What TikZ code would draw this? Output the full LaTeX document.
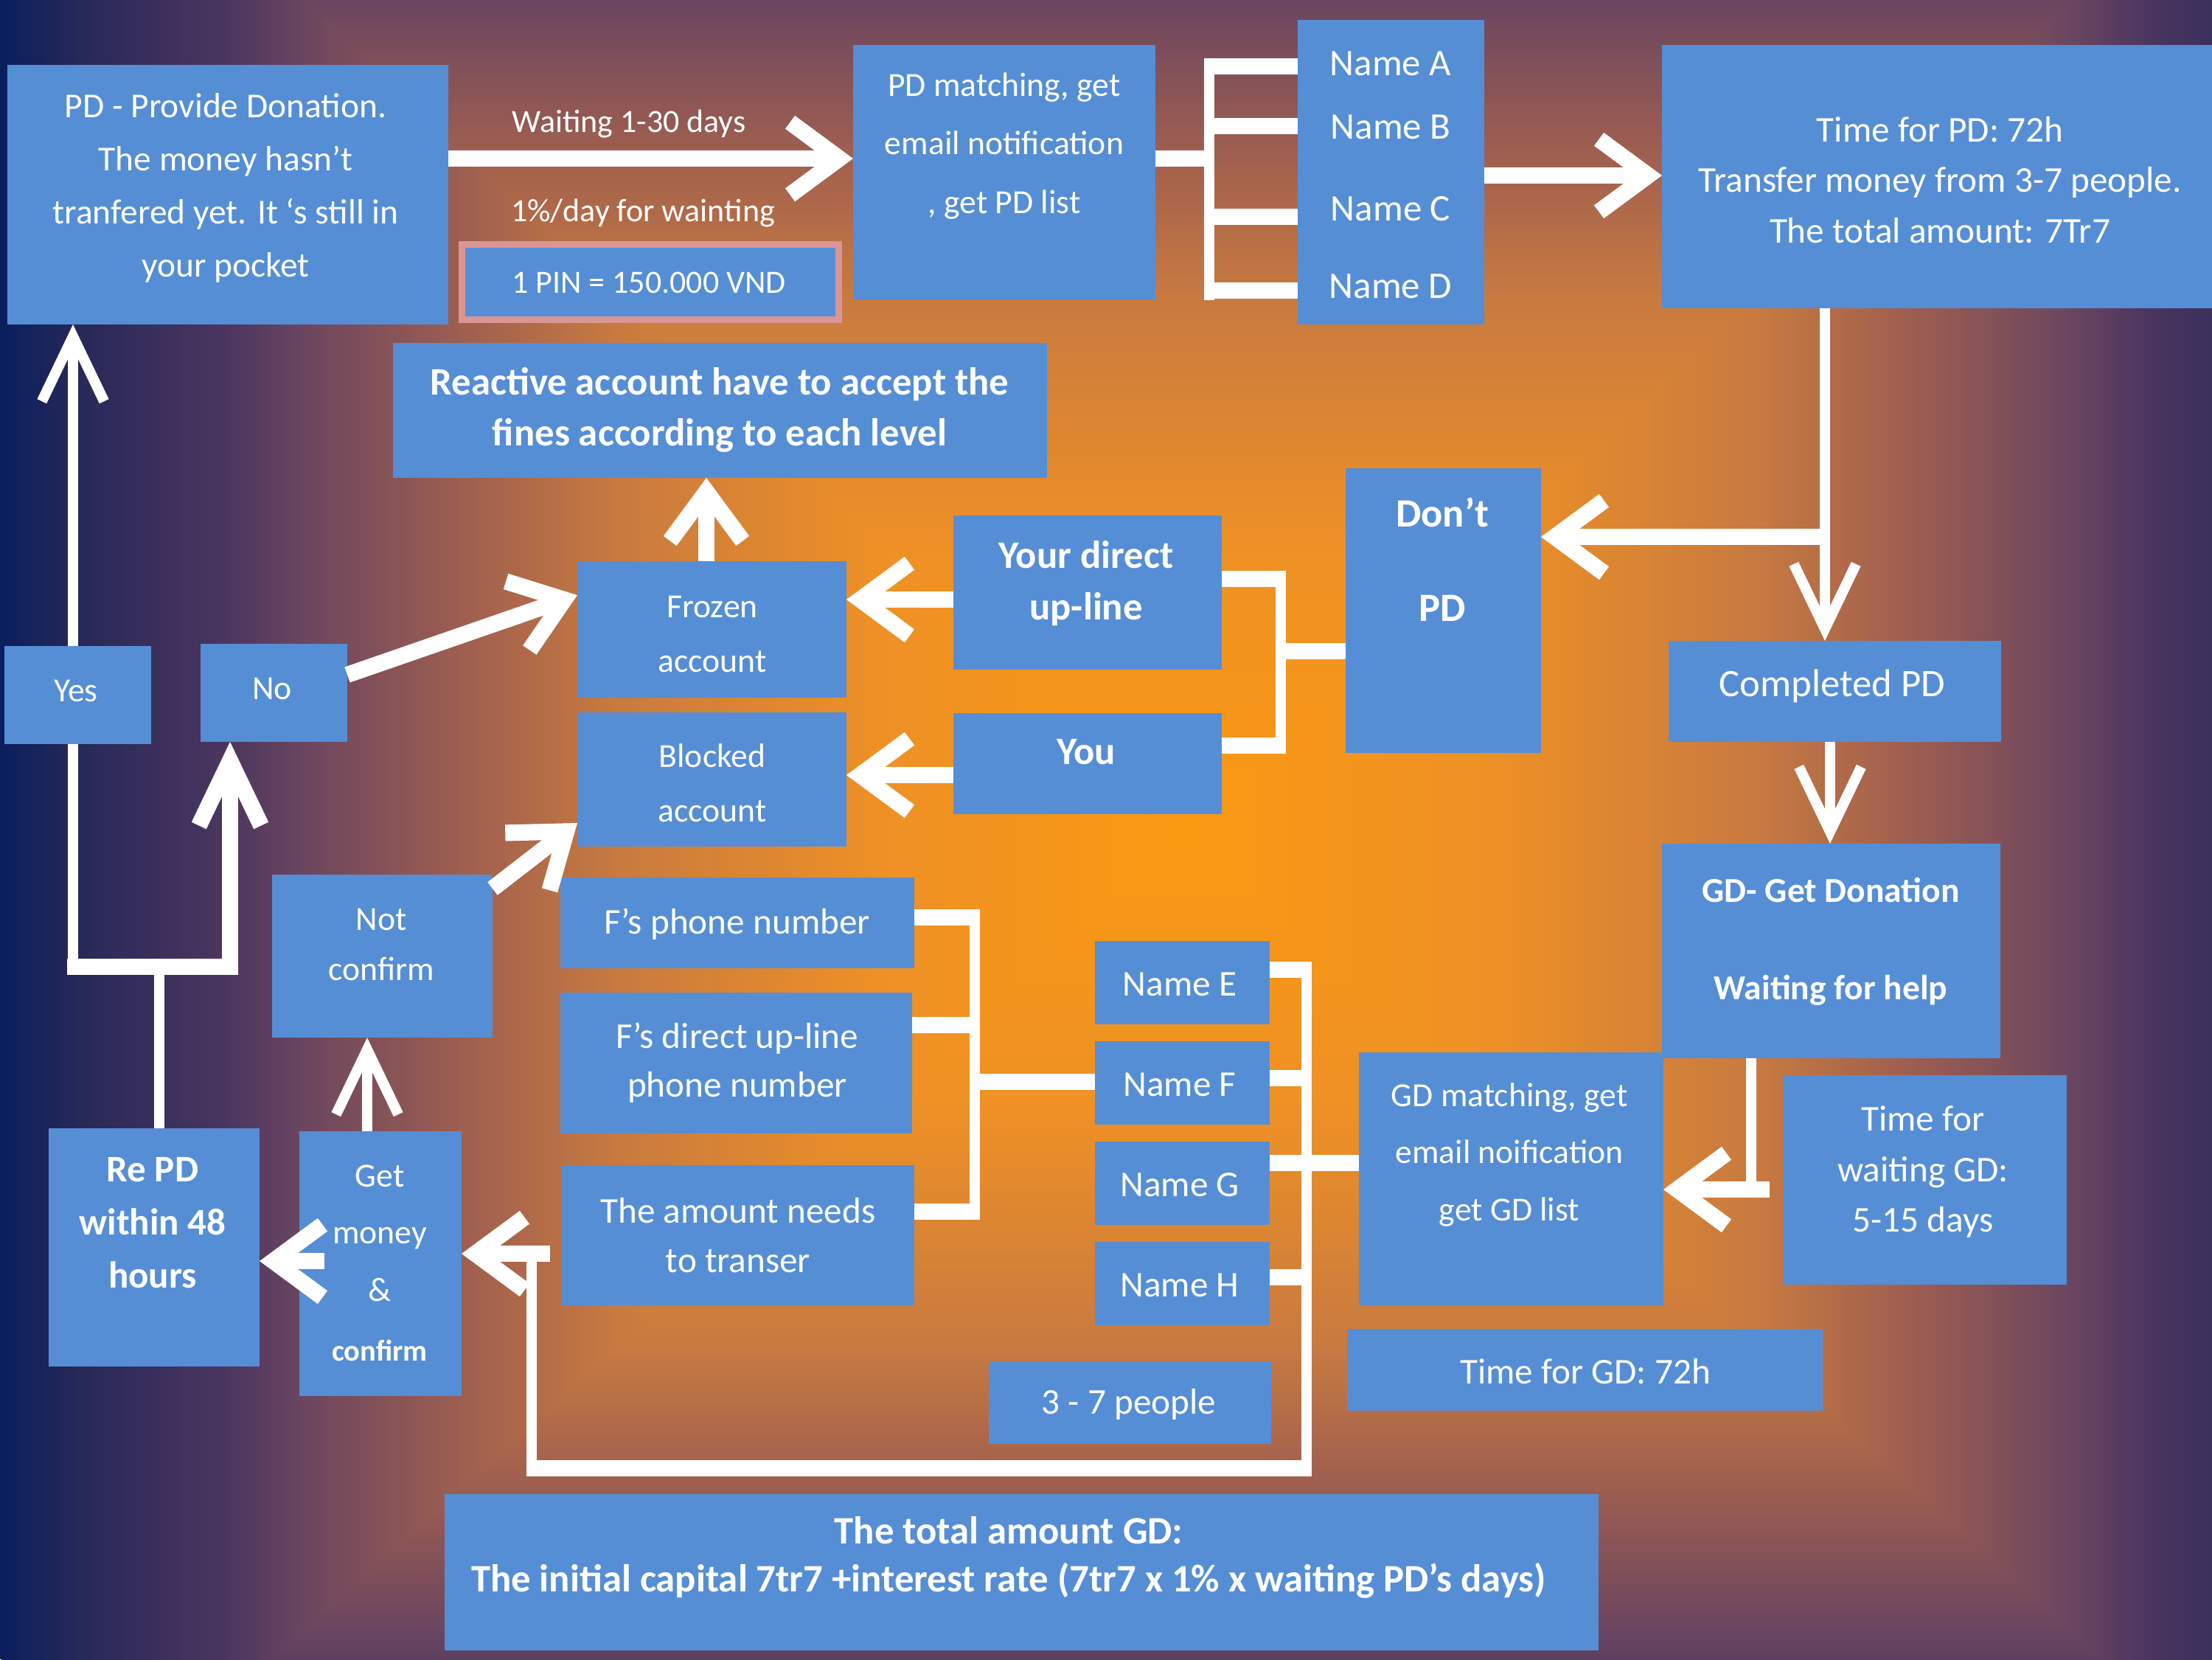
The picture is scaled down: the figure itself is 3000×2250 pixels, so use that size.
\documentclass[tikz,border=0pt]{standalone}
\usepackage{fontspec}
\setmainfont{Carlito}
\usetikzlibrary{arrows.meta,fit}

\definecolor{boxblue}{HTML}{558ED5}
\definecolor{pinkedge}{HTML}{D99694}
% background ramp, from the outer edge inwards
\definecolor{rampA}{HTML}{0B1F5E}
\definecolor{rampB}{HTML}{262858}
\definecolor{rampC}{HTML}{4A3560}
\definecolor{rampD}{HTML}{6B4660}
\definecolor{rampE}{HTML}{9E5E50}
\definecolor{rampF}{HTML}{C87A40}
\definecolor{rampG}{HTML}{EE9026}
\definecolor{rampH}{HTML}{FA9A12}

\newcommand\fsz[2]{\fontsize{#1}{#2}\selectfont}

% nested rectangles that give a rectangular glow around (1607,1130)
% #1 outer level, #2 inner level, #3 outer colour, #4 inner colour, #5 steps
\newcommand\glowband[5]{%
  \foreach \bk in {0,...,#5}{%
    \pgfmathsetmacro\bandv{#1-(#1-#2)*\bk/#5}%
    \pgfmathsetmacro\bandmix{100*\bk/#5}%
    \fill[#4!\bandmix!#3]
      ({1607-\bandv*1408},{1130-\bandv*1330}) rectangle
      ({1607+\bandv*1414},{1130+\bandv*1272});
  }}

\tikzset{
  box/.style={fill=boxblue, draw=none, inner sep=0pt, outer sep=0pt},
  lbl/.style={text=white, align=center, inner sep=0pt, outer sep=0pt},
  wire/.style={draw=white, line width=6.3pt},
  slim/.style={draw=white, line width=4pt},
  headT/.style={-{Straight Barb[length=19pt,width=28pt]}},
  headS/.style={-{Straight Barb[length=25pt,width=24pt]}},
}

\begin{document}
\begin{tikzpicture}[x=0.01cm,y=-0.01cm]
\path[use as bounding box] (0,0) rectangle (3000,2250);
\begin{scope}
  \clip (0,0) rectangle (3000,2250);
  \fill[rampA] (0,0) rectangle (3000,2250);
  \glowband{1.14}{1.07}{rampA}{rampB}{14}
  \glowband{1.07}{0.93}{rampB}{rampC}{28}
  \glowband{0.93}{0.85}{rampC}{rampD}{16}
  \glowband{0.85}{0.70}{rampD}{rampE}{30}
  \glowband{0.70}{0.55}{rampE}{rampF}{30}
  \glowband{0.55}{0.30}{rampF}{rampG}{50}
  \glowband{0.30}{0.00}{rampG}{rampH}{60}
\end{scope}

% ---------- boxes ----------
\node[box, fit={(10,88) (608,440)}] (pd) {};
\node[box, fit={(1157,61) (1567,406)}] (match) {};
\node[box, fit={(1760,27) (2013,135)}] (nameA) {};
\node[box, fit={(1760,134) (2013,221)}] (nameB) {};
\node[box, fit={(1760,220) (2013,331)}] (nameC) {};
\node[box, fit={(1760,330) (2013,440)}] (nameD) {};
\node[box, fit={(2254,61) (3000,418)}] (tpd) {};
\node[box, fit={(1825,635) (2090,1021)}] (dont) {};
\node[box, fit={(2263,869) (2714,1006)}] (completed) {};
\node[box, fit={(2254,1144) (2713,1435)}] (gd) {};
\node[box, fit={(1843,1427) (2256,1770)}] (gdm) {};
\node[box, fit={(2418,1458) (2803,1742)}] (twait) {};
\node[box, fit={(1827,1802) (2472,1913)}] (tgd) {};
\node[box, fit={(1485,1276) (1722,1389)}] (nameE) {};
\node[box, fit={(1485,1412) (1722,1525)}] (nameF) {};
\node[box, fit={(1485,1548) (1722,1661)}] (nameG) {};
\node[box, fit={(1485,1684) (1722,1797)}] (nameH) {};
\node[box, fit={(1341,1846) (1724,1958)}] (people) {};
\node[box, fit={(603,2026) (2168,2238)}] (total) {};
\node[box, fit={(760,1190) (1240,1313)}] (fph) {};
\node[box, fit={(760,1346) (1237,1537)}] (fdu) {};
\node[box, fit={(762,1580) (1240,1770)}] (amt) {};
\node[box, fit={(783,761) (1148,946)}] (frozen) {};
\node[box, fit={(783,966) (1148,1148)}] (blocked) {};
\node[box, fit={(533,465) (1420,648)}] (reactive) {};
\node[box, fit={(1293,699) (1657,908)}] (yd) {};
\node[box, fit={(1293,967) (1657,1104)}] (you) {};
\node[box, fit={(6,876) (205,1009)}] (yes) {};
\node[box, fit={(272,873) (471,1006)}] (no) {};
\node[box, fit={(66,1530) (352,1853)}] (repd) {};
\node[box, fit={(406,1534) (626,1893)}] (getm) {};
\node[box, fit={(369,1186) (668,1407)}] (notc) {};
% PIN box with its pink rim
\node[box, draw=pinkedge, line width=2.6pt, fit={(626.5,331.5) (1137.5,433.5)}] (pin) {};

% ---------- texts ----------
\node[lbl, font=\fsz{13.5}{20.5}] (pdtext) at (306,255)
  {PD - Provide Donation.\\The money hasn’t\\tranfered yet. It ‘s still in\\your pocket};
\node[lbl, font=\fsz{12.5}{15}] (waittext) at (853,168) {Waiting 1-30 days};
\node[lbl, font=\fsz{12.5}{15}] (ratetext) at (872,289) {1\%/day for wainting};
\node[lbl, font=\fsz{12.5}{15}] (pintext) at (880,383) {1 PIN = 150.000 VND};
\node[lbl, font=\fsz{13}{22.5}] (matchtext) at (1362,198)
  {PD matching, get\\email notification\\, get PD list};
\node[lbl, font=\fsz{14.5}{17}] (nameAtext) at (1886,86) {Name A};
\node[lbl, font=\fsz{14.5}{17}] (nameBtext) at (1886,172) {Name B};
\node[lbl, font=\fsz{14.5}{17}] (nameCtext) at (1886,283) {Name C};
\node[lbl, font=\fsz{14.5}{17}] (nameDtext) at (1886,388) {Name D};
\node[lbl, font=\fsz{14}{19.5}] (tpdtext) at (2631,244)
  {Time for PD: 72h\\Transfer money from 3-7 people.\\The total amount: 7Tr7};
\node[lbl, font=\bfseries\fsz{15.5}{36.4}] (donttext) at (1956,759) {Don’t\\PD};
\node[lbl, font=\fsz{15}{18}] (completedtext) at (2485,930) {Completed PD};
\node[lbl, font=\bfseries\fsz{13.5}{37.5}] (gdtext) at (2483,1277)
  {GD- Get Donation\\Waiting for help};
\node[lbl, font=\fsz{13}{22}] (gdmtext) at (2047,1566)
  {GD matching, get\\email noification\\get GD list};
\node[lbl, font=\fsz{14}{19.5}] (twaittext) at (2608,1589)
  {Time for\\waiting GD:\\5-15 days};
\node[lbl, font=\fsz{14}{17}] (tgdtext) at (2150,1860) {Time for GD: 72h};
\node[lbl, font=\fsz{14}{17}] (nameEtext) at (1600,1335) {Name E};
\node[lbl, font=\fsz{14}{17}] (nameFtext) at (1600,1471) {Name F};
\node[lbl, font=\fsz{14}{17}] (nameGtext) at (1600,1607) {Name G};
\node[lbl, font=\fsz{14}{17}] (nameHtext) at (1600,1743) {Name H};
\node[lbl, font=\fsz{14}{17}] (peopletext) at (1531,1904) {3 - 7 people};
\node[lbl, font=\bfseries\fsz{15}{18.5}] (totaltext) at (1368,2112)
  {The total amount GD:\\The initial capital 7tr7 +interest rate (7tr7 x 1\% x waiting PD’s days)};
\node[lbl, font=\fsz{14}{17}] (fphtext) at (1000,1253) {F’s phone number};
\node[lbl, font=\fsz{14}{19}] (fdutext) at (1000,1441) {F’s direct up-line\\phone number};
\node[lbl, font=\fsz{14}{19}] (amttext) at (1001,1675) {The amount needs\\to transer};
\node[lbl, font=\fsz{13}{21}] (frozentext) at (966,860) {Frozen\\account};
\node[lbl, font=\fsz{13}{21}] (blockedtext) at (966,1062) {Blocked\\account};
\node[lbl, font=\bfseries\fsz{15}{19.6}] (reactivetext) at (976,556)
  {Reactive account have to accept the\\fines according to each level};
\node[lbl, font=\bfseries\fsz{15}{20}] (ydtext) at (1473,791) {Your direct\\up-line};
\node[lbl, font=\bfseries\fsz{15}{18}] (youtext) at (1473,1020) {You};
\node[lbl, font=\fsz{13}{16}] (yestext) at (103,937) {Yes};
\node[lbl, font=\fsz{13}{16}] (notext) at (369,934) {No};
\node[lbl, font=\bfseries\fsz{14.5}{20.5}] (repdtext) at (207,1658) {Re PD\\within 48\\hours};
\node[lbl, font=\fsz{13}{22}] (getmtext) at (515,1672) {Get\\money\\\&};
\node[lbl, font=\bfseries\fsz{11.5}{14}] (confirmtext) at (515,1831) {confirm};
\node[lbl, font=\fsz{13}{19.5}] (notctext) at (517,1281) {Not\\confirm};

% ---------- connectors ----------
% top row
\draw[wire, headT] (pd.east |- 0,215) -- (match.west |- 0,215);
\draw[wire] (match.east |- 0,215) -- (1647,215);
\draw[slim] (1640,79) -- (1640,407);
\draw[wire] (1633,90)  -- (nameA.west |- 0,90);
\draw[wire] (1633,171) -- (nameB.west |- 0,171);
\draw[wire] (1633,294) -- (nameC.west |- 0,294);
\draw[wire] (1633,394) -- (nameD.west |- 0,394);
\draw[wire, headT] (nameC.east |- 0,238) -- (tpd.west |- 0,238);

% right column
\draw[slim, headS] (tpd.south -| 2475,0) -- (completed.north -| 2475,0);
\coordinate (dontjoin) at (2477,728);
\draw[wire, headT] (dontjoin) -- (dont.east |- dontjoin);
\draw[slim, headS] (completed.south -| 2482,0) -- (gd.north -| 2482,0);
\coordinate (gdturn) at (2375,1613);
\draw[slim] (gd.south -| gdturn) -- (gdturn);
\draw[wire, headT] ([xshift=7]gdturn) -- (gdm.east |- gdturn);

% up-line bracket
\draw[wire] (yd.east |- 0,785) -- (1744,785);
\draw[slim] (1737,774) -- (1737,1022);
\draw[wire] (you.east |- 0,1011) -- (1744,1011);
\draw[wire] (1730,883) -- (dont.west |- 0,883);
\draw[wire, headT] (yd.west |- 0,813) -- (frozen.east |- 0,813);
\draw[wire, headT] (you.west |- 0,1051) -- (blocked.east |- 0,1051);
\draw[wire, headT] (frozen.north -| 958,0) -- (reactive.south -| 958,0);
\draw[wire, headT] (no.east |- 0,915) -- (frozen.west |- 0,807);
\draw[wire, headT] (notc.east |- 0,1205) -- (blocked.west |- 0,1116);

% left loop
\draw[slim, headS] (yes.north -| 99,0) -- (pd.south -| 99,0);
\draw[slim] (yes.south -| 99,0) -- (99,1322);
\draw[wire] (91,1311) -- (322,1311);
\draw[wire, headS] (312,1322) -- (no.south -| 312,0);
\draw[slim] (repd.north -| 216,0) -- (216,1311);
\coordinate (gmout) at (440,1710);
\draw[wire, headT] (gmout) -- (repd.east |- gmout);
\draw[slim, headS] (getm.north -| 498,0) -- (notc.south -| 498,0);

% F bracket
\draw[wire] (fph.east |- 0,1244) -- (1329,1244);
\draw[wire] (fdu.east |- 0,1390) -- (1329,1390);
\draw[wire] (amt.east |- 0,1643) -- (1329,1643);
\draw[slim] (1322,1233) -- (1322,1654);
\draw[wire] (1315,1467) -- (nameF.west |- 0,1467);

% names E-H bus and return loop
\draw[slim] (1772,1304) -- (1772,1991);
\draw[wire] (nameE.east |- 0,1315) -- (1779,1315);
\draw[wire] (nameF.east |- 0,1462) -- (1779,1462);
\draw[wire] (nameG.east |- 0,1577) -- (gdm.west |- 0,1577);
\draw[wire] (nameH.east |- 0,1732) -- (1779,1732);
\draw[wire] (1779,1991) -- (714,1991);
\coordinate (loopturn) at (721,1700);
\draw[slim] (721,2002) -- (loopturn);
\draw[wire, headT] ([xshift=7]loopturn) -- (getm.east |- loopturn);
\end{tikzpicture}
\end{document}
